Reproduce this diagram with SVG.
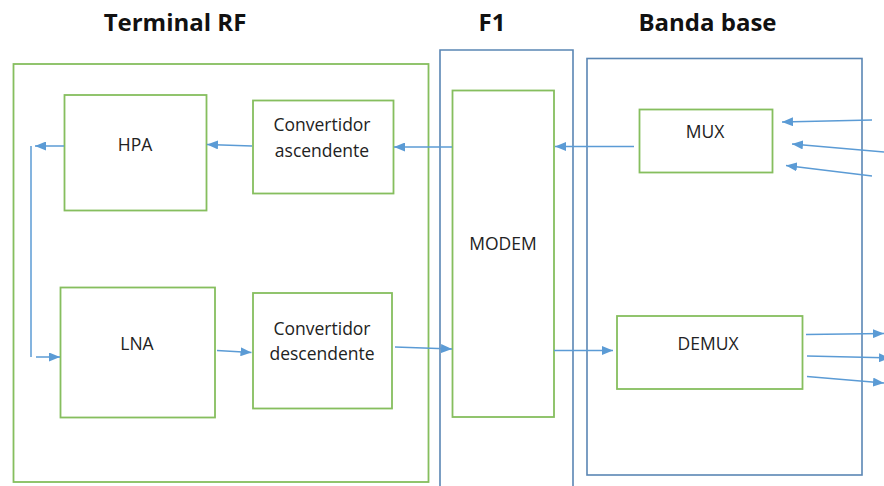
<svg xmlns="http://www.w3.org/2000/svg" width="884" height="486" viewBox="0 0 884 486">
  <style>
    .title { font-family: "Open Sans", "Liberation Sans", sans-serif; font-weight: bold; font-size: 24px; fill: #111; text-anchor: middle; }
    .lbl { font-family: "Open Sans", "Liberation Sans", sans-serif; font-size: 17.5px; fill: #222; text-anchor: middle; }
    .box { fill: none; stroke: #86BE5E; stroke-width: 1.8; }
    .cont { fill: none; stroke: #5A86B4; stroke-width: 1.6; }
    .conn { fill: none; stroke: #5B9BD5; stroke-width: 1.5; }
    .arr { marker-end: url(#ah); }
  </style>
  <defs>
    <marker id="ah" markerUnits="userSpaceOnUse" markerWidth="11" markerHeight="9" refX="11" refY="4.5" orient="auto">
      <path d="M0,0 L11,4.5 L0,9 z" fill="#5B9BD5"/>
    </marker>
  </defs>
  <rect width="884" height="486" fill="#ffffff"/>

  <g id="titles">
    <text class="title" x="175" y="31">Terminal RF</text>
    <text class="title" x="492" y="31">F1</text>
    <text class="title" x="707.5" y="31">Banda base</text>
  </g>

  <g id="terminal-rf">
    <rect class="box" x="13.5" y="64" width="415" height="418"/>
  </g>
  <g id="f1">
    <path class="cont" d="M440,490 L440,50 L573,50 L573,490"/>
  </g>
  <g id="banda-base">
    <rect class="cont" x="587" y="58.5" width="275" height="416.5"/>
  </g>

  <g id="hpa">
    <rect class="box" x="64.5" y="95" width="142" height="115.5"/>
    <text class="lbl" x="135" y="150.5">HPA</text>
  </g>
  <g id="conv-asc">
    <rect class="box" x="253" y="100.5" width="140.5" height="93"/>
    <text class="lbl" x="322" y="131">Convertidor</text>
    <text class="lbl" x="322" y="156.5">ascendente</text>
  </g>
  <g id="lna">
    <rect class="box" x="60.5" y="287.5" width="154.5" height="130"/>
    <text class="lbl" x="137" y="350">LNA</text>
  </g>
  <g id="conv-desc">
    <rect class="box" x="253" y="293" width="139" height="115.5"/>
    <text class="lbl" x="322" y="335">Convertidor</text>
    <text class="lbl" x="322" y="360">descendente</text>
  </g>
  <g id="modem">
    <rect class="box" x="452.5" y="90.5" width="101.5" height="326.5"/>
    <text class="lbl" x="503" y="250">MODEM</text>
  </g>
  <g id="mux">
    <rect class="box" x="639.5" y="109.5" width="133" height="63"/>
    <text class="lbl" x="705" y="138">MUX</text>
  </g>
  <g id="demux">
    <rect class="box" x="617" y="316" width="185.5" height="73"/>
    <text class="lbl" x="708" y="350">DEMUX</text>
  </g>

  <g id="connectors">
    <path class="conn arr" d="M634,146.5 L555,146.5"/>
    <path class="conn arr" d="M452,147 L394,147"/>
    <path class="conn arr" d="M252,146 L207,144.5"/>
    <path class="conn arr" d="M64,146 L35,146"/>
    <path class="conn" d="M31,146 L31,357"/>
    <path class="conn arr" d="M36,357 L60,357"/>
    <path class="conn arr" d="M217,350.5 L251.5,352.5"/>
    <path class="conn arr" d="M395,347 L452,349"/>
    <path class="conn arr" d="M554,350.5 L613,350.5"/>
    <path class="conn arr" d="M872,120 L782,122"/>
    <path class="conn arr" d="M884,152 L792,144"/>
    <path class="conn arr" d="M872,176 L786,165.5"/>
    <path class="conn arr" d="M806,334.5 L884,333.5"/>
    <path class="conn arr" d="M807,356 L890,358"/>
    <path class="conn arr" d="M807,376.5 L884,383"/>
  </g>
</svg>
